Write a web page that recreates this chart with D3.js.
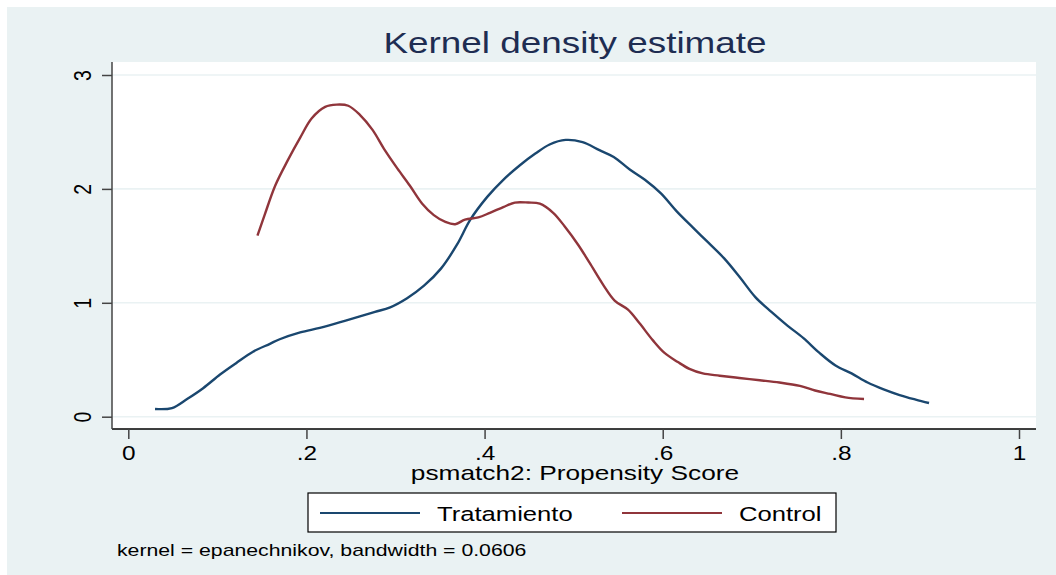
<!DOCTYPE html>
<html>
<head>
<meta charset="utf-8">
<script src="https://cdn.jsdelivr.net/npm/d3@7"></script>
<style>
  body { margin: 0; background: #fff; }
  svg text { font-family: "Liberation Sans", Arial, sans-serif; }
</style>
</head>
<body>
<svg id="chart"></svg>
<script>
const width = 1056;
const height = 575;

// kernel density, treated group
const tratX = [0.030, 0.049, 0.066, 0.084, 0.103, 0.121, 0.140, 0.159, 0.170, 0.193, 0.215, 0.238, 0.260, 0.277, 0.294, 0.313, 0.332, 0.351, 0.369, 0.384, 0.403, 0.421, 0.440, 0.457, 0.473, 0.491, 0.510, 0.529, 0.545, 0.563, 0.580, 0.598, 0.616, 0.634, 0.651, 0.669, 0.687, 0.704, 0.722, 0.740, 0.758, 0.776, 0.794, 0.812, 0.830, 0.848, 0.866, 0.884, 0.899];
const tratY = [0.068, 0.076, 0.155, 0.25, 0.37, 0.47, 0.57, 0.64, 0.68, 0.74, 0.78, 0.83, 0.88, 0.92, 0.96, 1.04, 1.15, 1.30, 1.51, 1.73, 1.93, 2.08, 2.21, 2.31, 2.39, 2.43, 2.41, 2.34, 2.28, 2.17, 2.08, 1.96, 1.80, 1.66, 1.53, 1.39, 1.22, 1.05, 0.92, 0.80, 0.69, 0.56, 0.45, 0.38, 0.30, 0.24, 0.19, 0.15, 0.12];

// kernel density, control group
const ctrlX = [0.145, 0.153, 0.165, 0.179, 0.193, 0.206, 0.221, 0.234, 0.247, 0.260, 0.274, 0.288, 0.302, 0.316, 0.330, 0.343, 0.356, 0.367, 0.378, 0.393, 0.406, 0.421, 0.434, 0.449, 0.462, 0.477, 0.490, 0.505, 0.518, 0.533, 0.546, 0.561, 0.574, 0.589, 0.602, 0.617, 0.630, 0.645, 0.664, 0.686, 0.709, 0.731, 0.754, 0.771, 0.788, 0.805, 0.826];
const ctrlY = [1.59, 1.77, 2.03, 2.25, 2.45, 2.62, 2.72, 2.74, 2.73, 2.65, 2.52, 2.34, 2.18, 2.03, 1.87, 1.77, 1.71, 1.69, 1.73, 1.75, 1.79, 1.84, 1.88, 1.88, 1.87, 1.79, 1.67, 1.51, 1.35, 1.16, 1.02, 0.94, 0.82, 0.67, 0.56, 0.48, 0.42, 0.38, 0.36, 0.34, 0.32, 0.30, 0.27, 0.23, 0.20, 0.17, 0.155];

const xTicks = [0, 0.2, 0.4, 0.6, 0.8, 1];
const xTickLabels = ["0", ".2", ".4", ".6", ".8", "1"];
const yTicks = [0, 1, 2, 3];

const seriesNames = ["Tratamiento", "Control"];
const seriesColors = ["#1a476f", "#90353b"];

// the exported graph has its text stretched sideways
const stretch = 1.25;
const sx = `scale(${stretch},1)`;

const svg = d3.select("#chart").attr("width", width).attr("height", height);

// outer graph region
svg.append("rect")
  .attr("x", 7).attr("y", 7)
  .attr("width", width - 7).attr("height", height - 7)
  .attr("fill", "#eaf2f3");

const margin = { top: 62, right: 20, bottom: 146, left: 112 };
const innerWidth = width - margin.left - margin.right;   // 924
const innerHeight = height - margin.top - margin.bottom; // 367

const g = svg.append("g").attr("transform", `translate(${margin.left},${margin.top})`);

g.append("rect")
  .attr("width", innerWidth).attr("height", innerHeight)
  .attr("fill", "#ffffff");

const xScale = d3.scaleLinear().domain([0, 1]).range([16.3, 907]);
const yScale = d3.scaleLinear().domain([0, 3]).range([354.7, 13]);

// grid lines
g.selectAll(".grid")
  .data(yTicks)
  .enter()
  .append("line")
  .attr("x1", 0).attr("x2", innerWidth)
  .attr("y1", (d) => yScale(d)).attr("y2", (d) => yScale(d))
  .attr("stroke", "#eaf2f3")
  .attr("stroke-width", 1.6);

// x axis
const xAxis = d3.axisBottom(xScale)
  .tickValues(xTicks)
  .tickFormat((d, i) => xTickLabels[i])
  .tickSize(10)
  .tickSizeOuter(0);

const xAxisG = g.append("g")
  .attr("transform", `translate(0,${innerHeight})`)
  .call(xAxis);
xAxisG.select(".domain").attr("d", `M0,0H${innerWidth}`).attr("stroke", "#000").attr("stroke-width", 1.5);
xAxisG.selectAll(".tick line").attr("stroke", "#444").attr("stroke-width", 1.5);
xAxisG.selectAll(".tick text")
  .attr("x", 0).attr("y", 31).attr("dy", null)
  .attr("transform", sx)
  .attr("font-size", 19.5)
  .attr("fill", "#000")
  .attr("font-family", "Liberation Sans, Arial, sans-serif");

// y axis
const yAxis = d3.axisLeft(yScale)
  .tickValues(yTicks)
  .tickFormat(d3.format("d"))
  .tickSize(10)
  .tickSizeOuter(0);

const yAxisG = g.append("g").call(yAxis);
yAxisG.select(".domain").attr("d", `M0,0V${innerHeight}`).attr("stroke", "#444").attr("stroke-width", 1.5);
yAxisG.selectAll(".tick line").attr("stroke", "#444").attr("stroke-width", 1.5);
yAxisG.selectAll(".tick text")
  .attr("x", 0).attr("y", -21 / stretch).attr("dy", null)
  .attr("transform", `${sx} rotate(-90)`)
  .attr("text-anchor", "middle")
  .attr("font-size", 19.5)
  .attr("fill", "#000")
  .attr("font-family", "Liberation Sans, Arial, sans-serif");

// density lines
const line = d3.line()
  .x((d) => xScale(d[0]))
  .y((d) => yScale(d[1]))
  .curve(d3.curveCatmullRom.alpha(0.5));

const series = [
  d3.zip(tratX, tratY),
  d3.zip(ctrlX, ctrlY)
];

g.selectAll(".density")
  .data(series)
  .enter()
  .append("path")
  .attr("class", "density")
  .attr("d", line)
  .attr("fill", "none")
  .attr("stroke", (d, i) => seriesColors[i])
  .attr("stroke-width", 2.4)
  .attr("stroke-linejoin", "round");

// title
svg.append("text")
  .attr("x", 575 / stretch).attr("y", 53)
  .attr("transform", sx)
  .attr("text-anchor", "middle")
  .attr("fill", "#1e2d52")
  .attr("font-size", 29.5)
  .text("Kernel density estimate");

// x axis title
svg.append("text")
  .attr("x", 575 / stretch).attr("y", 480)
  .attr("transform", sx)
  .attr("text-anchor", "middle")
  .attr("fill", "#000")
  .attr("font-size", 21)
  .text("psmatch2: Propensity Score");

// legend
const legend = svg.append("g").attr("transform", "translate(308,493)");
legend.append("rect")
  .attr("width", 528).attr("height", 39)
  .attr("fill", "#fff")
  .attr("stroke", "#000")
  .attr("stroke-width", 1.2);

const legendItems = legend.selectAll(".item")
  .data(seriesNames)
  .enter()
  .append("g")
  .attr("transform", (d, i) => `translate(${[12, 314][i]},0)`);

legendItems.append("line")
  .attr("x1", 0).attr("x2", 100)
  .attr("y1", 20).attr("y2", 20)
  .attr("stroke", (d, i) => seriesColors[i])
  .attr("stroke-width", 2);

legendItems.append("text")
  .attr("x", 117 / stretch).attr("y", 28)
  .attr("transform", sx)
  .attr("font-size", 20.5)
  .attr("fill", "#000")
  .text((d) => d);

// note
svg.append("text")
  .attr("x", 117 / stretch).attr("y", 556)
  .attr("transform", sx)
  .attr("font-size", 17)
  .attr("fill", "#000")
  .text("kernel = epanechnikov, bandwidth = 0.0606");
</script>
</body>
</html>
